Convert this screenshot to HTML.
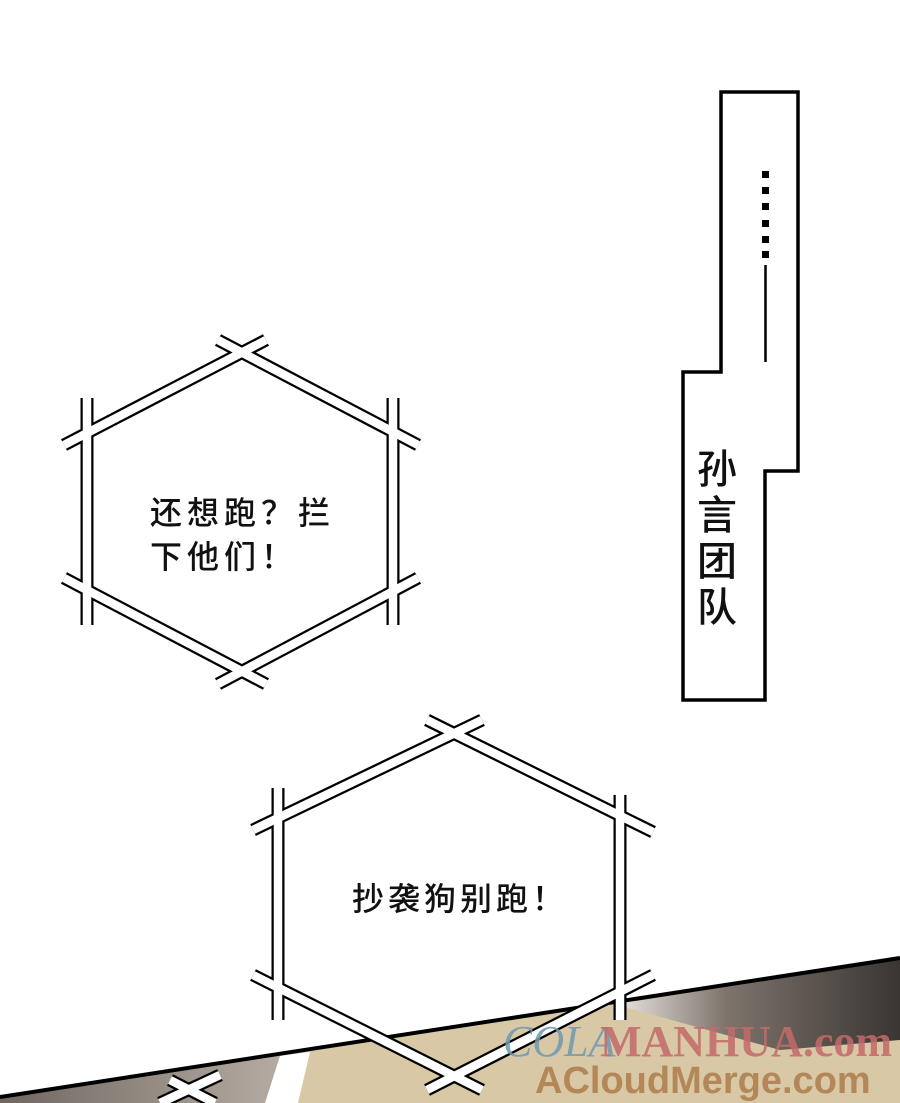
<!DOCTYPE html>
<html><head><meta charset="utf-8"><style>
html,body{margin:0;padding:0;background:#fff;}
body{width:900px;height:1103px;position:relative;overflow:hidden;font-family:"Noto Sans CJK SC",sans-serif;}
.t{position:absolute;color:#111;font-size:32px;line-height:43px;white-space:nowrap;letter-spacing:5px;font-weight:500;}
</style></head><body>
<svg width="900" height="1103" style="position:absolute;left:0;top:0">
<defs>
<linearGradient id="dk" x1="0" y1="0" x2="1" y2="0">
<stop offset="0" stop-color="#f0ece6"/><stop offset="0.4" stop-color="#7d746c"/><stop offset="1" stop-color="#3a3532"/></linearGradient>
<linearGradient id="dk2" x1="0" y1="0" x2="1" y2="0">
<stop offset="0" stop-color="#6e6660"/><stop offset="1" stop-color="#b5aba2"/></linearGradient>
</defs>
<polygon points="0,1097 900,958 900,1103 0,1103" fill="#d8c8a6"/>
<polygon points="610,1003 900,958 900,1040 780,1050" fill="url(#dk)"/>
<polygon points="0,1097 280,1056 265,1103 0,1103" fill="url(#dk2)"/>
<polygon points="280,1056 310,1052 298,1103 265,1103" fill="#fff"/>
<line x1="0" y1="1097" x2="900" y2="958" stroke="#000" stroke-width="4"/>
<g stroke-linecap="butt">
<g stroke="#000" stroke-width="13">
<line x1="64" y1="445" x2="266" y2="340"/><line x1="218" y1="340" x2="418" y2="445"/>
<line x1="393" y1="398" x2="393" y2="625"/><line x1="418" y1="578" x2="218" y2="684"/>
<line x1="266" y1="684" x2="64" y2="578"/><line x1="87" y1="625" x2="87" y2="398"/>
</g>
<g stroke="#fff" stroke-width="8.5">
<line x1="64" y1="445" x2="266" y2="340"/><line x1="218" y1="340" x2="418" y2="445"/>
<line x1="393" y1="398" x2="393" y2="625"/><line x1="418" y1="578" x2="218" y2="684"/>
<line x1="266" y1="684" x2="64" y2="578"/><line x1="87" y1="625" x2="87" y2="398"/>
</g>
<g stroke="#000" stroke-width="13">
<line x1="253" y1="830" x2="482" y2="720"/><line x1="427" y1="720" x2="653" y2="832"/>
<line x1="620" y1="795" x2="620" y2="1020"/><line x1="653" y1="975" x2="427" y2="1090"/>
<line x1="482" y1="1090" x2="253" y2="975"/><line x1="278" y1="1020" x2="278" y2="788"/>
<line x1="160" y1="1103" x2="220" y2="1075"/><line x1="170" y1="1080" x2="215" y2="1103"/>
</g>
<g stroke="#fff" stroke-width="8.5">
<line x1="253" y1="830" x2="482" y2="720"/><line x1="427" y1="720" x2="653" y2="832"/>
<line x1="620" y1="795" x2="620" y2="1020"/><line x1="653" y1="975" x2="427" y2="1090"/>
<line x1="482" y1="1090" x2="253" y2="975"/><line x1="278" y1="1020" x2="278" y2="788"/>
<line x1="160" y1="1103" x2="220" y2="1075"/><line x1="170" y1="1080" x2="215" y2="1103"/>
</g>
</g>
<polygon points="721,92 798,92 798,471 765,471 765,700 683,700 683,372 721,372" fill="#fff" stroke="#000" stroke-width="3.5"/>
<g fill="#000">
<rect x="762" y="171" width="7" height="7"/><rect x="762" y="187" width="7" height="7"/>
<rect x="762" y="203" width="7" height="7"/><rect x="762" y="220" width="7" height="7"/>
<rect x="762" y="236" width="7" height="7"/><rect x="762" y="251" width="7" height="7"/>
</g>
<line x1="765.5" y1="265" x2="765.5" y2="362" stroke="#000" stroke-width="2.5"/>
<text x="503" y="1056" font-family="Liberation Serif,serif" font-style="italic" font-size="44" fill="#6f9ab0" opacity="0.85">COLA</text>
<text x="600" y="1056" font-family="Liberation Serif,serif" font-weight="bold" font-size="44" fill="#c46a6a" opacity="0.85">MANHUA.com</text>
<text x="535" y="1093" font-family="Liberation Sans,sans-serif" font-weight="bold" font-size="38" fill="#b08050" opacity="0.9">ACloudMerge.com</text>
</svg>
<div class="t" style="left:150px;top:490px;">还想跑？拦</div>
<div class="t" style="left:150px;top:534px;">下他们！</div>
<div class="t" style="left:352px;top:876px;letter-spacing:4px;">抄袭狗别跑！</div>
<div class="t" style="left:697px;top:443px;width:42px;font-size:40px;line-height:46px;white-space:normal;letter-spacing:0;">孙言团队</div>
</body></html>
